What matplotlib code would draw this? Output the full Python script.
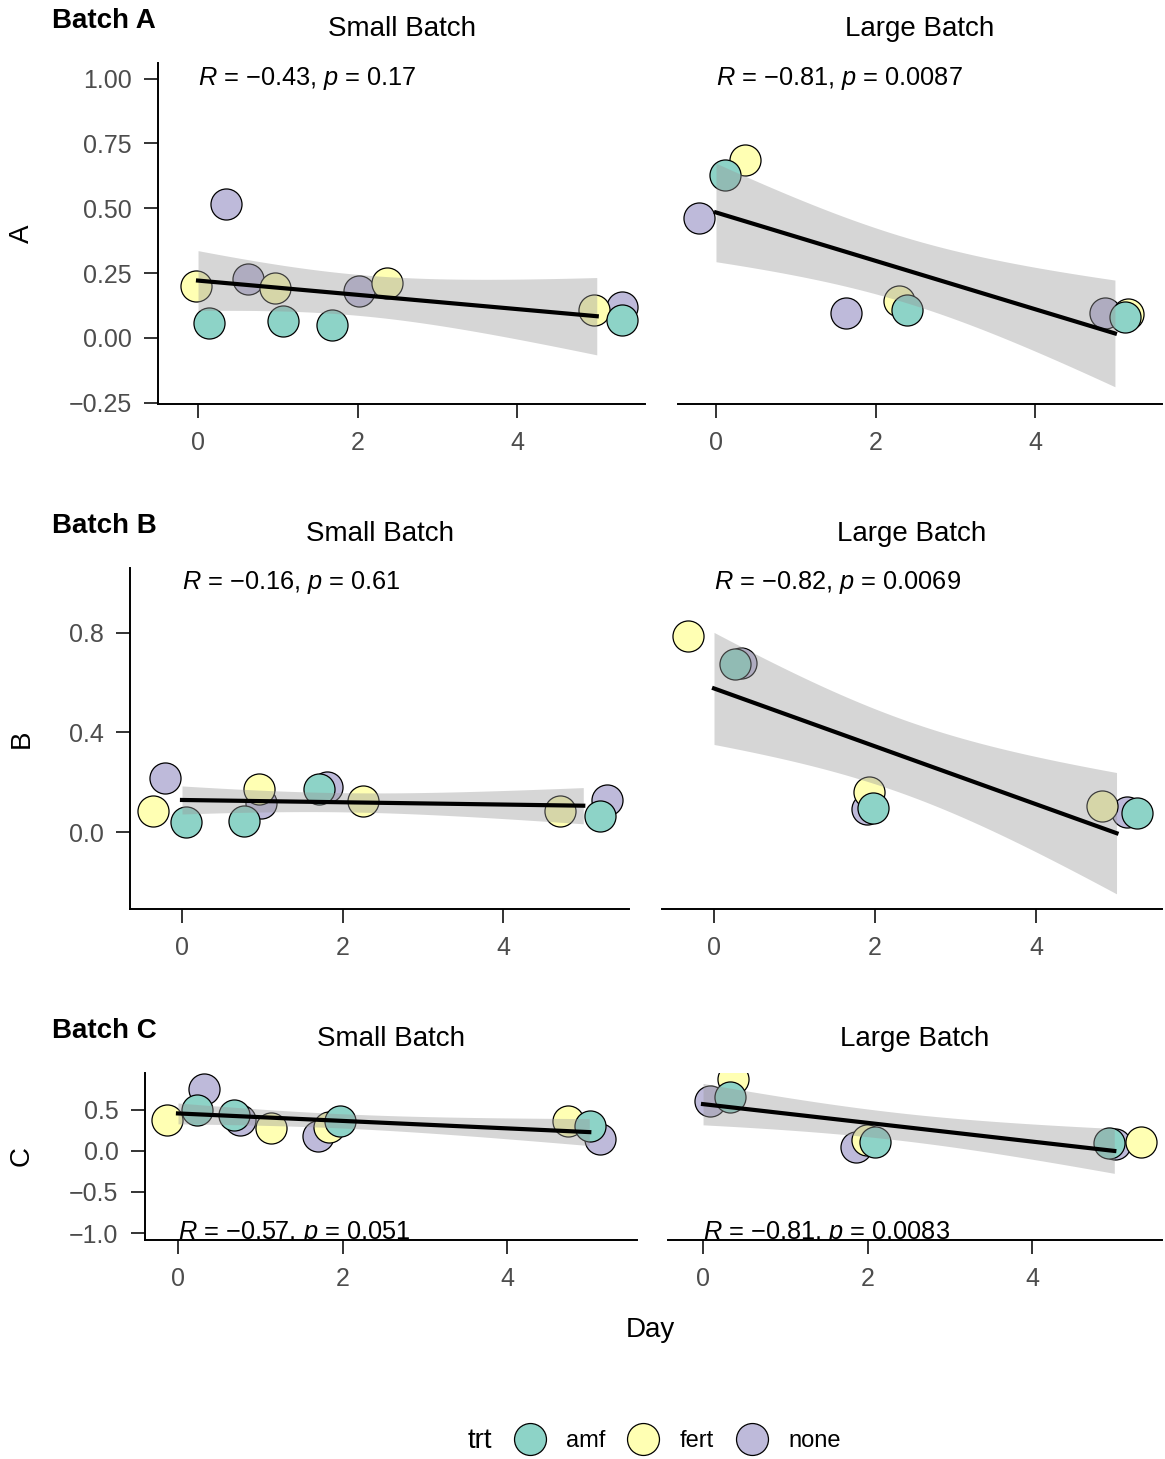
import numpy as np
import matplotlib
matplotlib.use("Agg")
import matplotlib.pyplot as plt
from matplotlib.lines import Line2D

plt.rcParams["font.family"] = ["Liberation Sans", "DejaVu Sans"]
plt.rcParams["mathtext.fontset"] = "custom"
plt.rcParams["mathtext.it"] = "Liberation Sans:italic"
plt.rcParams["mathtext.rm"] = "Liberation Sans"

# ==================================================
# DATA (day = sampling day, x = jittered position as drawn)
# ==================================================

TRT_COLORS = {"amf": "#8DD3C7", "fert": "#FFFFB3", "none": "#BEBADA"}

# Batch A - Small Batch
a_small_day = [0, 0, 0, 1, 1, 1, 2, 2, 2, 5, 5, 5]
a_small_trt = ["fert", "amf", "none", "none", "fert", "amf", "amf", "none", "fert", "fert", "none", "amf"]
a_small_x = [-0.02, 0.14, 0.35, 0.63, 0.96, 1.06, 1.68, 2.02, 2.37, 4.97, 5.32, 5.32]
a_small_y = [0.199, 0.058, 0.518, 0.227, 0.191, 0.065, 0.050, 0.180, 0.211, 0.106, 0.118, 0.069]

# Batch A - Large Batch
a_large_day = [0, 0, 0, 2, 2, 2, 5, 5, 5]
a_large_trt = ["none", "amf", "fert", "none", "fert", "amf", "none", "fert", "amf"]
a_large_x = [-0.21, 0.11, 0.36, 1.63, 2.30, 2.40, 4.87, 5.17, 5.13]
a_large_y = [0.463, 0.628, 0.686, 0.096, 0.144, 0.108, 0.096, 0.091, 0.082]

# Batch B - Small Batch
b_small_day = [0, 0, 0, 1, 1, 1, 2, 2, 2, 5, 5, 5]
b_small_trt = ["fert", "none", "amf", "amf", "fert", "none", "none", "amf", "fert", "fert", "none", "amf"]
b_small_x = [-0.36, -0.21, 0.05, 0.77, 0.96, 0.99, 1.81, 1.71, 2.25, 4.71, 5.30, 5.21]
b_small_y = [0.086, 0.218, 0.039, 0.046, 0.174, 0.118, 0.182, 0.171, 0.123, 0.084, 0.129, 0.064]

# Batch B - Large Batch
b_large_day = [0, 0, 0, 2, 2, 2, 5, 5, 5]
b_large_trt = ["fert", "amf", "none", "fert", "none", "amf", "fert", "none", "amf"]
b_large_x = [-0.32, 0.26, 0.33, 1.92, 1.90, 1.97, 4.82, 5.13, 5.25]
b_large_y = [0.788, 0.675, 0.677, 0.159, 0.091, 0.098, 0.106, 0.079, 0.075]

# Batch C - Small Batch
c_small_day = [0, 0, 0, 1, 1, 1, 2, 2, 2, 5, 5, 5]
c_small_trt = ["fert", "none", "amf", "amf", "none", "fert", "none", "fert", "amf", "fert", "amf", "none"]
c_small_x = [-0.13, 0.32, 0.23, 0.68, 0.75, 1.13, 1.70, 1.84, 1.97, 4.74, 5.01, 5.13]
c_small_y = [0.378, 0.752, 0.500, 0.439, 0.378, 0.285, 0.183, 0.297, 0.366, 0.366, 0.305, 0.146]

# Batch C - Large Batch
c_large_day = [0, 0, 0, 2, 2, 2, 5, 5, 5]
c_large_trt = ["none", "fert", "amf", "none", "fert", "amf", "none", "amf", "fert"]
c_large_x = [0.08, 0.37, 0.33, 1.86, 1.99, 2.09, 5.01, 4.94, 5.32]
c_large_y = [0.614, 0.880, 0.655, 0.053, 0.134, 0.113, 0.085, 0.094, 0.113]

cor_labels = {
    ("A", "small"): ("-0.43", "0.17"),
    ("A", "large"): ("-0.81", "0.0087"),
    ("B", "small"): ("-0.16", "0.61"),
    ("B", "large"): ("-0.82", "0.0069"),
    ("C", "small"): ("-0.57", "0.051"),
    ("C", "large"): ("-0.81", "0.0083"),
}

yticks = {"A": [-0.25, 0.0, 0.25, 0.5, 0.75, 1.0],
          "B": [0.0, 0.4, 0.8],
          "C": [-1.0, -0.5, 0.0, 0.5]}
ytick_labels = {"A": ["\u22120.25", "0.00", "0.25", "0.50", "0.75", "1.00"],
                "B": ["0.0", "0.4", "0.8"],
                "C": ["\u22121.0", "\u22120.5", "0.0", "0.5"]}
xticks = [0, 2, 4]

# t quantiles (97.5%) for the 95% confidence band
T975 = {7: 2.365, 10: 2.228}

# ==================================================
# LAYOUT (pixels)
# ==================================================

W, H = 1165, 1459
fig = plt.figure(figsize=(W / 100, H / 100), dpi=100)

rows = {
    "A": dict(top=63, bottom=404, ylim=(-0.255, 1.06), label=(1.0, "center"),
              panels=[(158, 645, (-0.502, 5.605)), (678, 1162, (-0.476, 5.59))]),
    "B": dict(top=568, bottom=909, ylim=(-0.309, 1.06), label=(1.0, "center"),
              panels=[(130, 629, (-0.648, 5.57)), (662, 1162, (-0.646, 5.565))]),
    "C": dict(top=1073, bottom=1240, ylim=(-1.085, 0.95), label=(-1.078, "baseline"),
              panels=[(145, 637, (-0.401, 5.58)), (668, 1162, (-0.426, 5.58))]),
}

panel_data = {
    ("A", "small"): (a_small_day, a_small_trt, a_small_x, a_small_y),
    ("A", "large"): (a_large_day, a_large_trt, a_large_x, a_large_y),
    ("B", "small"): (b_small_day, b_small_trt, b_small_x, b_small_y),
    ("B", "large"): (b_large_day, b_large_trt, b_large_x, b_large_y),
    ("C", "small"): (c_small_day, c_small_trt, c_small_x, c_small_y),
    ("C", "large"): (c_large_day, c_large_trt, c_large_x, c_large_y),
}

TXT = 20
TICK = 18
MS = 500

for row, cfg in rows.items():
    for i, size in enumerate(["small", "large"]):
        left, right, xlim = cfg["panels"][i]
        ax = fig.add_axes([left / W, 1 - cfg["bottom"] / H,
                           (right - left) / W, (cfg["bottom"] - cfg["top"]) / H])
        day, trt, xj, yv = panel_data[(row, size)]
        day = np.array(day, float)
        trt = np.array(trt)
        xj = np.array(xj)
        yv = np.array(yv)

        # points (none first, amf on top)
        for t in ["none", "fert", "amf"]:
            m = trt == t
            ax.scatter(xj[m], yv[m], s=MS, c=TRT_COLORS[t], edgecolors="black",
                       linewidths=0.9, zorder=2)

        # linear fit with 95% CI
        n = len(day)
        slope, intercept = np.polyfit(day, yv, 1)
        resid = yv - (intercept + slope * day)
        s = np.sqrt(np.sum(resid ** 2) / (n - 2))
        xg = np.linspace(day.min(), day.max(), 80)
        se = s * np.sqrt(1 / n + (xg - day.mean()) ** 2 / np.sum((day - day.mean()) ** 2))
        fit = intercept + slope * xg
        tq = T975[n - 2]
        ax.fill_between(xg, fit - tq * se, fit + tq * se, color="#999999",
                        alpha=0.4, linewidth=0, zorder=3)
        ax.plot(xg, fit, color="black", lw=3, zorder=4)

        r_txt, p_txt = cor_labels[(row, size)]
        r_txt = r_txt.replace("-", "\u2212")
        ly, lva = cfg["label"]
        ax.text(0, ly, "$\\mathit{R}$ = " + r_txt + ", $\\mathit{p}$ = " + p_txt,
                fontsize=18.3, ha="left", va=lva, zorder=5, clip_on=True)

        ax.set_xlim(xlim)
        ax.set_ylim(cfg["ylim"])
        ax.set_xticks(xticks)
        ax.set_xticklabels([str(v) for v in xticks])
        for sp in ["top", "right"]:
            ax.spines[sp].set_visible(False)
        ax.spines["bottom"].set_linewidth(1.4)
        ax.spines["left"].set_linewidth(1.4)
        ax.tick_params(axis="both", length=10, width=1.4, color="#333333",
                       labelcolor="#4D4D4D", labelsize=TICK)
        ax.tick_params(axis="x", pad=9.5)
        ax.tick_params(axis="y", pad=9)
        if i == 0:
            ax.set_yticks(yticks[row])
            ax.set_yticklabels(ytick_labels[row])
        else:
            ax.spines["left"].set_visible(False)
            ax.set_yticks([])

        title = "Small Batch" if size == "small" else "Large Batch"
        fig.text((left + right) / 2 / W, 1 - (cfg["top"] - 34) / H, title,
                 fontsize=TXT, ha="center", va="center")

    fig.text(52 / W, 1 - (cfg["top"] - 42) / H, "Batch " + row, fontsize=TXT,
             fontweight="bold", ha="left", va="center")
    fig.text(22 / W, 1 - (cfg["top"] + cfg["bottom"]) / 2 / H, row, fontsize=TXT,
             rotation=90, ha="center", va="center")

fig.text(650 / W, 1 - 1330 / H, "Day", fontsize=TXT, ha="center", va="center")

# legend
fig.text(480 / W, 1 - 1441 / H, "trt", fontsize=TXT, ha="center", va="center")
handles = [Line2D([], [], marker="o", linestyle="", markersize=23,
                  markerfacecolor=TRT_COLORS[t], markeredgecolor="black",
                  markeredgewidth=0.9) for t in ["amf", "fert", "none"]]
fig.legend(handles, ["amf", "fert", "none"], loc="center", ncol=3,
           bbox_to_anchor=(677 / W, 1 - 1441 / H), frameon=False,
           fontsize=17, handletextpad=0.85, columnspacing=0.9,
           handlelength=1.4, borderpad=0.2)

fig.savefig("out.png", dpi=100)
